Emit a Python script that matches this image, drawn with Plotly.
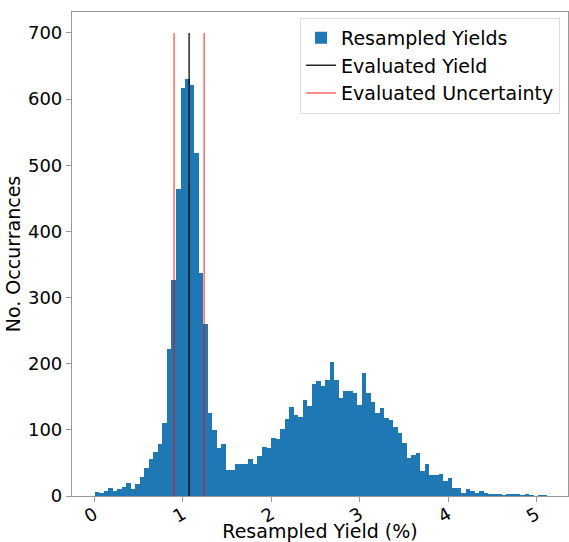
import numpy as np
import plotly.graph_objects as go

counts = [6, 4, 8, 12, 7, 11, 14, 19, 11, 18,
          29, 42, 56, 67, 78, 111, 222, 327, 464, 617,
          631, 622, 519, 337, 260, 126, 100, 73, 78, 39,
          40, 49, 48, 49, 56, 49, 61, 74, 72, 87,
          86, 102, 116, 134, 123, 120, 145, 136, 170, 174,
          166, 176, 203, 176, 148, 159, 159, 156, 138, 186,
          156, 142, 126, 133, 118, 115, 105, 95, 80, 58,
          62, 65, 38, 48, 32, 31, 34, 23, 27, 12,
          12, 5, 10, 8, 5, 7, 4, 3, 3, 3,
          1, 2, 2, 2, 1, 2, 1, 0, 1, 1]
bin_start = 0.0
bin_end = 5.12
evaluated_yield = 1.07
uncertainty = 0.17
line_top = 700
x_ticks = [0, 1, 2, 3, 4, 5]
y_ticks = [0, 100, 200, 300, 400, 500, 600, 700]

edges = np.linspace(bin_start, bin_end, len(counts) + 1)
centers = (edges[:-1] + edges[1:]) / 2
width = edges[1] - edges[0]

fig = go.Figure()
fig.add_trace(go.Bar(x=centers, y=counts, width=width, name="Resampled Yields",
                     marker=dict(color="#1f77b4", line=dict(width=0))))
fig.add_trace(go.Scatter(x=[evaluated_yield, evaluated_yield], y=[0, line_top],
                         mode="lines", name="Evaluated Yield",
                         line=dict(color="rgba(0,0,0,0.85)", width=1.5)))
lo, hi = evaluated_yield - uncertainty, evaluated_yield + uncertainty
fig.add_trace(go.Scatter(x=[lo, lo, None, hi, hi], y=[0, line_top, None, 0, line_top],
                         mode="lines", name="Evaluated Uncertainty",
                         line=dict(color="rgba(255,0,0,0.6)", width=1.5)))

axis_common = dict(showline=True, linecolor="#999999", linewidth=1.2, mirror=True,
                   ticks="outside", ticklen=5, tickcolor="#999999", showgrid=False,
                   zeroline=False, tickfont=dict(size=18, color="black"),
                   automargin=False)
fig.update_layout(
    width=569, height=542,
    margin=dict(l=72, r=1, t=12, b=46),
    paper_bgcolor="white", plot_bgcolor="white",
    font=dict(family="DejaVu Sans", size=18, color="black"),
    bargap=0,
    showlegend=True,
    legend=dict(x=0.984, y=0.988, xanchor="right", yanchor="top",
                bgcolor="rgba(255,255,255,0.8)", bordercolor="#dddddd", borderwidth=1,
                font=dict(size=19), tracegroupgap=0),
    xaxis=dict(range=[-0.255, 5.356], tickvals=x_ticks, tickangle=-30,
               ticklabelstandoff=-5,
               title=dict(text="Resampled Yield (%)", font=dict(size=19)),
               **axis_common),
    yaxis=dict(range=[0, 731.7], tickvals=y_ticks,
               title=dict(text="No. Occurrances", font=dict(size=19), standoff=2),
               **axis_common),
)
fig.write_html("out.html")
